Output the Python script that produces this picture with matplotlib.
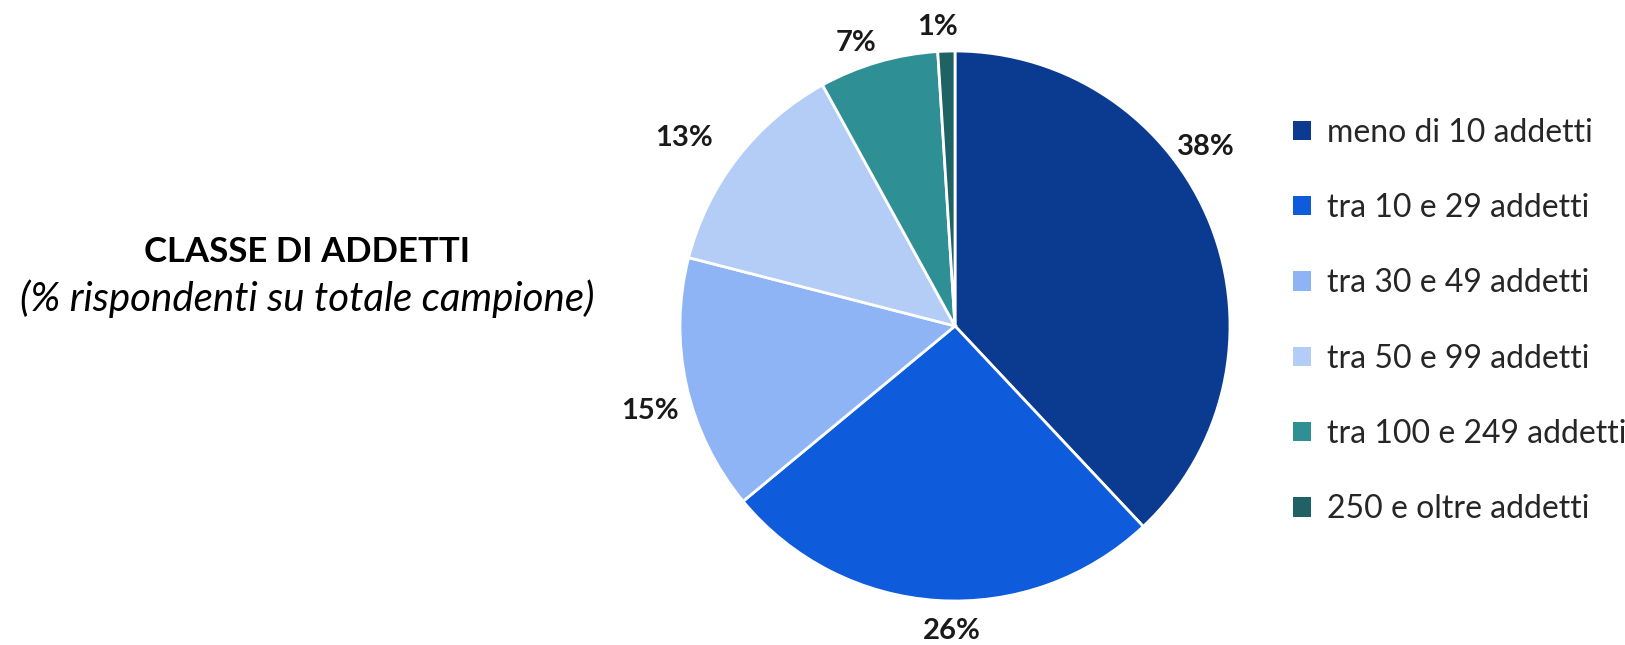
import matplotlib.pyplot as plt
from matplotlib.patches import Patch
import numpy as np

plt.rcParams['font.family'] = ['Lato', 'DejaVu Sans']

# classi di addetti e quote sul totale campione
classi = ["meno di 10 addetti", "tra 10 e 29 addetti", "tra 30 e 49 addetti",
          "tra 50 e 99 addetti", "tra 100 e 249 addetti", "250 e oltre addetti"]
quote = [38, 26, 15, 13, 7, 1]
colori = ["#0B3A91", "#0E5BDB", "#8FB4F5", "#B4CDF7", "#2E9095", "#1F6266"]

# posizione etichette: distanza dal centro e spostamento angolare (gradi)
dist_etichette = [1.12, 1.11, 1.15, 1.20, 1.09, 1.09]
shift_etichette = [14, 3, 3, 3, 3, 1.5]

W, H = 1625, 645
fig = plt.figure(figsize=(W / 100, H / 100), dpi=100)

# asse della torta: centro e raggio in pixel
cx, cy, r = 955, 326, 275
ax = fig.add_axes([(cx - r) / W, (H - cy - r) / H, 2 * r / W, 2 * r / H])

wedges, _ = ax.pie(quote, colors=colori, startangle=90, counterclock=False,
                   radius=1, wedgeprops=dict(edgecolor="white", linewidth=2))
ax.set_xlim(-1, 1)
ax.set_ylim(-1, 1)
ax.set_aspect("equal")
ax.axis("off")

for w, q, d, s in zip(wedges, quote, dist_etichette, shift_etichette):
    ang = np.deg2rad((w.theta1 + w.theta2) / 2 + s)
    ax.text(d * np.cos(ang), d * np.sin(ang), f"{q}%", ha="center", va="center",
            fontsize=21, fontweight="bold", color="#1a1a1a")

# titolo a sinistra
fig.text(307 / W, 1 - 252 / H, "CLASSE DI ADDETTI", ha="center", va="center",
         fontsize=25, fontweight="bold", color="black")
fig.text(307 / W, 1 - 299 / H, "(% rispondenti su totale campione)", ha="center",
         va="center", fontsize=29, fontstyle="italic", color="black")

handles = [Patch(facecolor=c, edgecolor="none") for c in colori]
fig.legend(handles, classi, loc="center left", bbox_to_anchor=(1293 / W, 1 - 321 / H),
           frameon=False, fontsize=23, handlelength=0.55, handleheight=0.55,
           handletextpad=0.5, labelspacing=1.42, borderpad=0, borderaxespad=0,
           labelcolor="#262626")

plt.savefig("out.png", dpi=100)
